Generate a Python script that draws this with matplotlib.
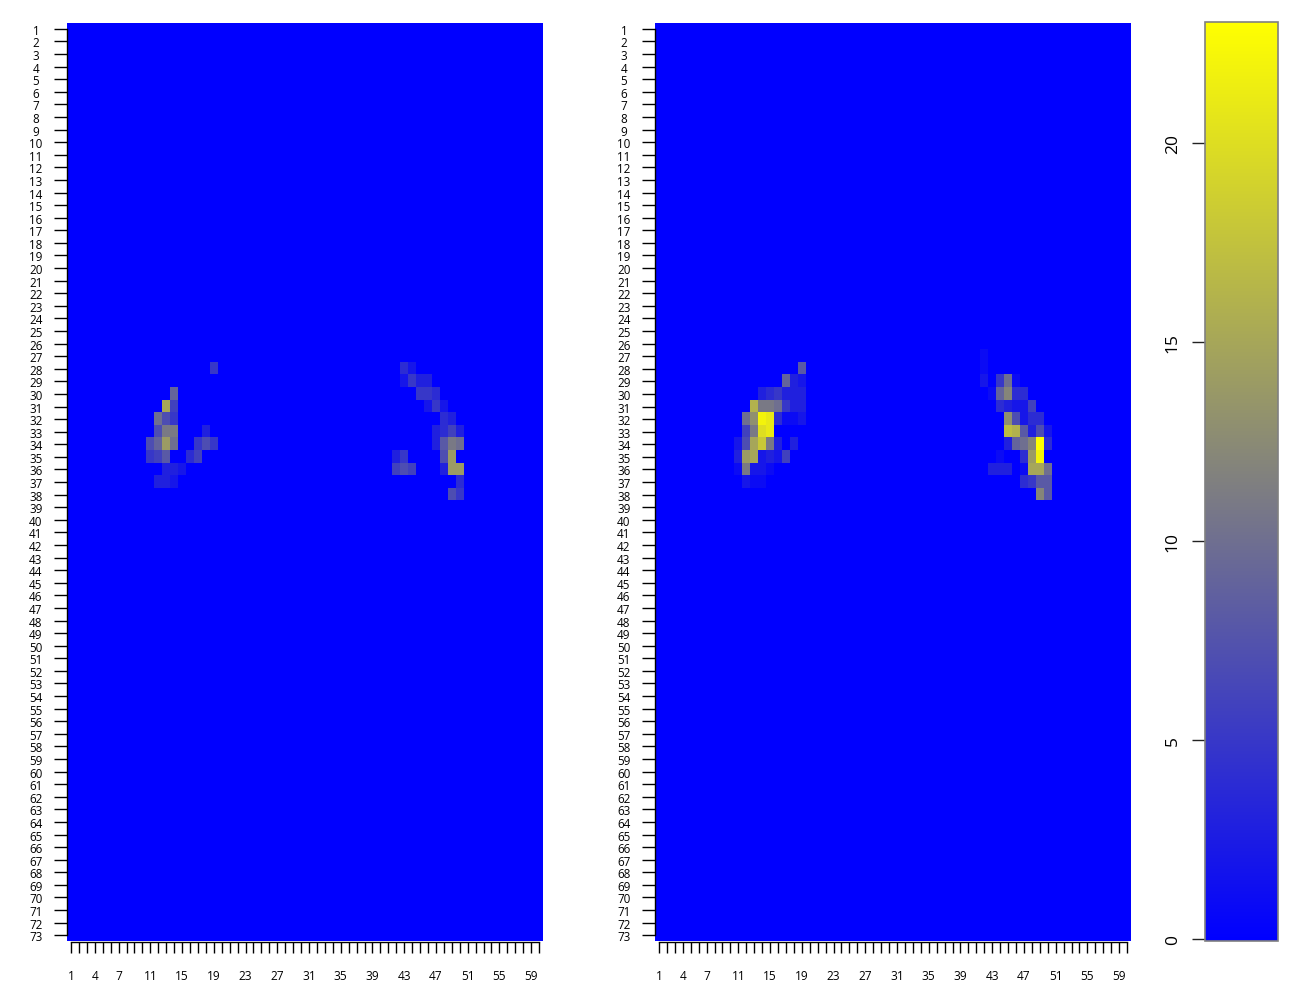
import numpy as np
import matplotlib
matplotlib.use("Agg")
import matplotlib.pyplot as plt
from matplotlib.colors import LinearSegmentedColormap, Normalize
from matplotlib.cm import ScalarMappable

N_ROWS = 73
N_COLS = 60
VMAX = 23
x_labels = {1: "1", 4: "4", 7: "7", 11: "11", 15: "15", 19: "19", 23: "23", 27: "27",
            31: "31", 35: "35", 39: "39", 43: "43", 47: "47", 51: "51", 55: "55", 59: "59"}
cbar_ticks = [0, 5, 10, 15, 20]

# row -> {column: value}
left_cells = {
    28: {19: 5, 43: 4, 44: 2},
    29: {43: 2, 44: 5, 45: 3, 46: 3},
    30: {14: 9, 45: 5, 46: 5, 47: 4},
    31: {13: 15, 14: 6, 46: 2, 47: 5, 48: 2},
    32: {12: 10, 13: 7, 14: 5, 48: 4, 49: 3},
    33: {12: 7, 13: 11, 14: 11, 18: 3, 47: 3, 48: 4, 49: 6, 50: 3},
    34: {11: 7, 12: 9, 13: 14, 14: 10, 17: 5, 18: 7, 19: 5, 47: 3, 48: 8, 49: 11, 50: 10},
    35: {11: 5, 12: 6, 13: 8, 16: 4, 17: 6, 42: 3, 43: 5, 48: 7, 49: 14},
    36: {13: 3, 14: 3, 15: 2, 42: 6, 43: 7, 44: 6, 48: 3, 49: 14, 50: 14},
    37: {12: 3, 13: 3, 14: 2, 50: 4},
    38: {49: 7, 50: 5},
}
right_cells = {
    27: {42: 1},
    28: {19: 8, 42: 1},
    29: {17: 9, 18: 3, 19: 2, 42: 2, 44: 5, 45: 10, 46: 1},
    30: {14: 3, 15: 4, 16: 5, 17: 3, 18: 3, 19: 3, 43: 1, 44: 9, 45: 12, 46: 4, 47: 4},
    31: {13: 16, 14: 11, 15: 11, 16: 10, 17: 5, 18: 3, 19: 3, 44: 4, 45: 3, 46: 2, 47: 2, 48: 6},
    32: {12: 10, 13: 13, 14: 22, 15: 21, 16: 4, 17: 1, 18: 1, 19: 2, 45: 13, 46: 7, 47: 2, 48: 4, 49: 4},
    33: {12: 6, 13: 11, 14: 20, 15: 21, 45: 17, 46: 16, 47: 8, 48: 3, 49: 7, 50: 2},
    34: {11: 2, 12: 7, 13: 15, 14: 18, 15: 11, 16: 3, 18: 3, 45: 3, 46: 9, 47: 10, 48: 12, 49: 23, 50: 4},
    35: {11: 3, 12: 14, 13: 15, 14: 2, 15: 3, 16: 2, 17: 6, 44: 1, 47: 4, 48: 14, 49: 22},
    36: {11: 1, 12: 11, 13: 2, 14: 2, 15: 1, 43: 3, 44: 3, 45: 3, 47: 1, 48: 15, 49: 15, 50: 10},
    37: {12: 2, 13: 1, 14: 1, 47: 4, 48: 5, 49: 8, 50: 8},
    38: {49: 12, 50: 8},
}

W, H = 1300, 1003
plt.rcParams["font.family"] = ["Open Sans", "DejaVu Sans"]
cmap = LinearSegmentedColormap.from_list("by", ["#0000ff", "#ffff00"], N=256)
norm = Normalize(0, VMAX)


def box(x0, x1, y0, y1):
    return [x0 / W, 1 - y1 / H, (x1 - x0) / W, (y1 - y0) / H]


def heat(ax, cells):
    m = np.zeros((N_ROWS, N_COLS))
    for r, row in cells.items():
        for c, v in row.items():
            m[r - 1, c - 1] = v
    ax.imshow(m, cmap=cmap, norm=norm, aspect="auto", interpolation="nearest",
              extent=(0.5, N_COLS + 0.5, N_ROWS + 0.5, 0.5))
    for s in ("top", "right"):
        ax.spines[s].set_visible(False)
    ax.spines["left"].set_bounds(1, N_ROWS)
    ax.spines["bottom"].set_bounds(1, N_COLS)
    ax.spines["left"].set_linewidth(1.0)
    ax.spines["bottom"].set_linewidth(1.0)
    ax.set_yticks(np.arange(1, N_ROWS + 1))
    ax.set_yticklabels([str(i) for i in range(1, N_ROWS + 1)], fontsize=8.4, ha="center")
    ax.set_xticks(np.arange(1, N_COLS + 1))
    ax.set_xticklabels([x_labels.get(i, "") for i in range(1, N_COLS + 1)], fontsize=8.6)
    ax.tick_params(axis="y", length=9.4, width=1.0, pad=13)
    ax.tick_params(axis="x", length=8, width=1.0, pad=11.5)


fig = plt.figure(figsize=(13, 10.03), dpi=100)
heat(fig.add_axes(box(67, 543, 23.6, 942.5)), left_cells)
heat(fig.add_axes(box(655, 1131, 23.6, 942.5)), right_cells)

cax = fig.add_axes(box(1205, 1278, 23, 942))
cb = fig.colorbar(ScalarMappable(norm=Normalize(-0.05, 23.04), cmap=cmap), cax=cax)
cb.outline.set_edgecolor("#808080")
cb.outline.set_linewidth(1.2)
cax.yaxis.set_ticks_position("left")
cb.set_ticks(cbar_ticks)
cb.set_ticklabels([str(t) for t in cbar_ticks])
cax.tick_params(axis="y", length=9.4, width=1.0, pad=8, labelsize=12.5, labelrotation=90, color="#222222")
for t in cax.get_yticklabels():
    t.set_va("center")
    t.set_ha("right")

fig.savefig("out.png", dpi=100)
